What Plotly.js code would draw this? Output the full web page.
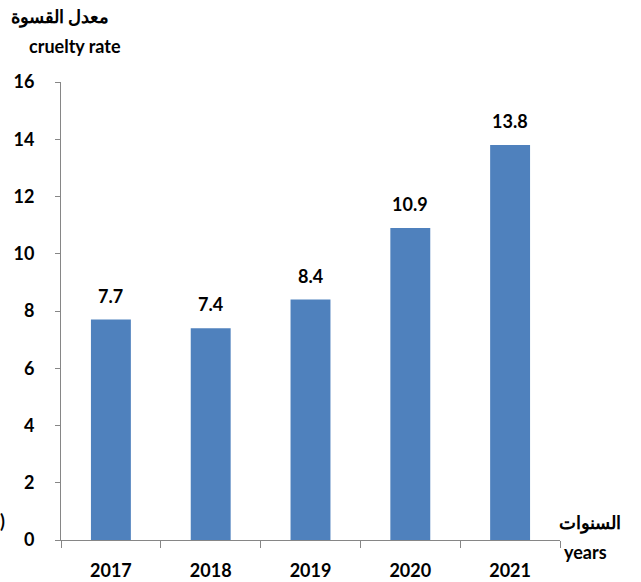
<!DOCTYPE html>
<html><head><meta charset="utf-8">
<script src="https://cdn.plot.ly/plotly-3.0.1.min.js"></script>
<style>html,body{margin:0;padding:0;background:#fff}#c{width:641px;height:582px}</style>
</head><body><div id="c"></div>
<script>
const years = ["2017","2018","2019","2020","2021"];
const rates = [7.7, 7.4, 8.4, 10.9, 13.8];
const yTicks = [0,2,4,6,8,10,12,14,16];

const W=641,H=582,L=61,R=81,T=82,B=42;
const px = x => (x - L)/(W-L-R);
const py = y => (H-B-y)/(H-T-B);
const F = "Lato, 'Open Sans', sans-serif";
const FS = 18;

const trace = {
  type:'bar', x: years, y: rates, width: 0.4,
  marker:{color:'#4F81BD', line:{width:0}},
  hoverinfo:'none'
};
const labelAnns = years.map((yr,i)=>({
  x: i, y: rates[i], xref:'x', yref:'y', text: String(rates[i]),
  showarrow:false, yanchor:'bottom', yshift: 11,
  font:{family:F, size:FS, color:'#000', weight:'bold'}
}));
const textAnns = [
  {text:"معدل القسوة", x:px(60), y:py(16)},
  {text:"cruelty rate", x:px(75), y:py(46)},
  {text:"السنوات", x:px(590), y:py(522)},
  {text:"years", x:px(585), y:py(552)},
  {text:")", x:px(2), y:py(521)}
].map(a=>({...a, xref:'paper', yref:'paper', showarrow:false, xanchor:'center', yanchor:'middle',
  font:{family:F, size:FS, color:'#000', weight:'bold'}}));

const layout = {
  width:W, height:H, margin:{l:L,r:R,t:T,b:B},
  paper_bgcolor:'#fff', plot_bgcolor:'#fff', showlegend:false,
  xaxis:{type:'category', categoryorder:'array', categoryarray:years, range:[-0.5,4.5],
    showline:true, linecolor:'#868686', linewidth:1,
    ticks:'outside', tickson:'boundaries', ticklen:7, tickcolor:'#868686',
    showgrid:false, zeroline:false, tickangle:0, ticklabelstandoff:14,
    tickfont:{family:F, size:FS, color:'#000', weight:'bold'}},
  yaxis:{range:[0,16], tickvals:yTicks, ticktext:yTicks.map(String),
    showline:true, linecolor:'#868686', linewidth:1,
    ticks:'outside', ticklen:5, tickcolor:'#868686',
    showgrid:false, zeroline:false, ticklabelstandoff:17,
    tickfont:{family:F, size:FS, color:'#000', weight:'bold'}},
  annotations: labelAnns.concat(textAnns)
};
Plotly.newPlot('c',[trace],layout,{displayModeBar:false, staticPlot:true});
</script></body></html>
